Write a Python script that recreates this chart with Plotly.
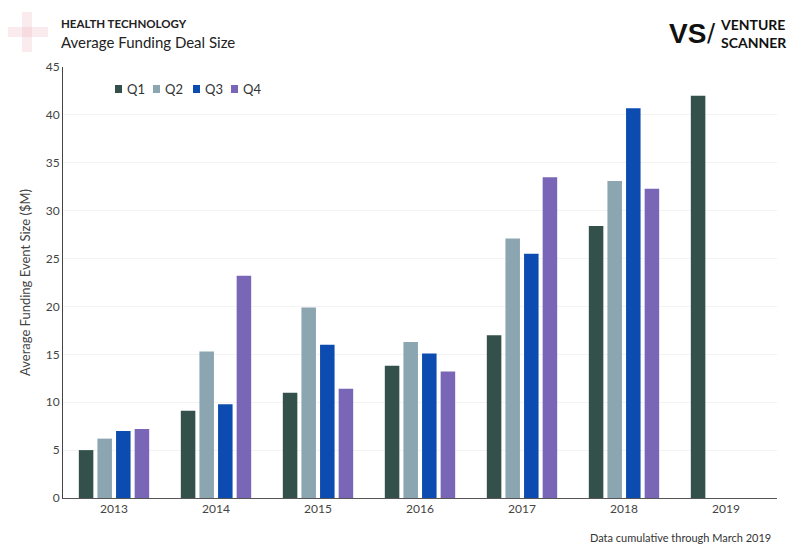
import plotly.graph_objects as go

years = ["2013", "2014", "2015", "2016", "2017", "2018", "2019"]
q1 = [5.0, 9.1, 11.0, 13.8, 17.0, 28.4, 42.0]
q2 = [6.2, 15.3, 19.9, 16.3, 27.1, 33.1, None]
q3 = [7.0, 9.8, 16.0, 15.1, 25.5, 40.7, None]
q4 = [7.2, 23.2, 11.4, 13.2, 33.5, 32.3, None]
series_names = ["Q1", "Q2", "Q3", "Q4"]
colors = ["#33504b", "#8ba5b1", "#0c4bb0", "#7a66b6"]

FONT = "Lato"
W, H = 800, 554
L, R, T, B = 63, 23, 67, 56
pw, ph = W - L - R, H - T - B
def px(x): return (x - L) / pw
def py(y): return (H - B - y) / ph

fig = go.Figure()
for name, vals, c in zip(series_names, [q1, q2, q3, q4], colors):
    fig.add_trace(go.Bar(x=years, y=vals, name=name, marker=dict(color=c, line=dict(width=0)),
                         showlegend=False))

fig.update_layout(
    width=W, height=H,
    paper_bgcolor="white", plot_bgcolor="white",
    barmode="group", bargap=0.27, bargroupgap=0.22,
    margin=dict(l=L, r=R, t=T, b=B, autoexpand=False),
    font=dict(family=FONT, size=12, color="#333333"),
    xaxis=dict(showline=True, linecolor="#555", linewidth=1, ticks="", showgrid=False,
               tickfont=dict(size=12, color="#444"), automargin=False),
    yaxis=dict(range=[0, 45], dtick=5, showline=True, linecolor="#444", linewidth=1,
               showgrid=True, gridcolor="#f3f3f3", zeroline=False, ticks="", automargin=False,
               tickfont=dict(size=12, color="#444"),
               title=dict(text="Average Funding Event Size ($M)", font=dict(size=13, color="#444"), standoff=12)),
)

# custom legend (horizontal, compact)
legend_x = [115, 153, 193, 231]
for name, c, lx in zip(series_names, colors, legend_x):
    fig.add_shape(type="rect", xref="paper", yref="paper", x0=px(lx), x1=px(lx + 7),
                  y0=py(93), y1=py(85), fillcolor=c, line=dict(width=0))
    fig.add_annotation(text=name, x=px(lx + 10), y=py(89), xref="paper", yref="paper",
                       showarrow=False, xanchor="left", yanchor="middle", font=dict(size=13, color="#333"))

fig.add_annotation(text="<b>HEALTH TECHNOLOGY</b>", x=px(59), y=py(23), xref="paper", yref="paper",
                   showarrow=False, xanchor="left", yanchor="middle", font=dict(size=11.5, color="#222"))
fig.add_annotation(text="Average Funding Deal Size", x=px(59), y=py(42), xref="paper", yref="paper",
                   showarrow=False, xanchor="left", yanchor="middle", font=dict(size=15, color="#222"))
fig.add_annotation(text="Data cumulative through March 2019", x=px(773), y=py(537), xref="paper", yref="paper",
                   showarrow=False, xanchor="right", yanchor="middle", font=dict(size=11, color="#333"))
# logo text
fig.add_annotation(text="<b>VS</b>", x=px(667), y=py(33), xref="paper", yref="paper",
                   showarrow=False, xanchor="left", yanchor="middle",
                   font=dict(size=28, color="#111", family="Liberation Sans"))
fig.add_annotation(text="/", x=px(711), y=py(33), xref="paper", yref="paper",
                   showarrow=False, xanchor="center", yanchor="middle", font=dict(size=24, color="#111", family="DejaVu Sans"))
fig.add_annotation(text="<b>VENTURE</b><br><b>SCANNER</b>", x=px(718), y=py(33), xref="paper", yref="paper",
                   showarrow=False, xanchor="left", yanchor="middle", align="left",
                   font=dict(size=14, color="#111", family="Lato"))
# faint cross logo at top left
fig.add_shape(type="rect", xref="paper", yref="paper", x0=px(22), x1=px(32), y0=py(12), y1=py(52),
              fillcolor="rgba(230,150,160,0.18)", line=dict(width=0))
fig.add_shape(type="rect", xref="paper", yref="paper", x0=px(8), x1=px(48), y0=py(27), y1=py(37),
              fillcolor="rgba(230,150,160,0.18)", line=dict(width=0))

fig.write_html("out.html", config={"displayModeBar": False},
               post_script="document.body.style.margin='0px';")
